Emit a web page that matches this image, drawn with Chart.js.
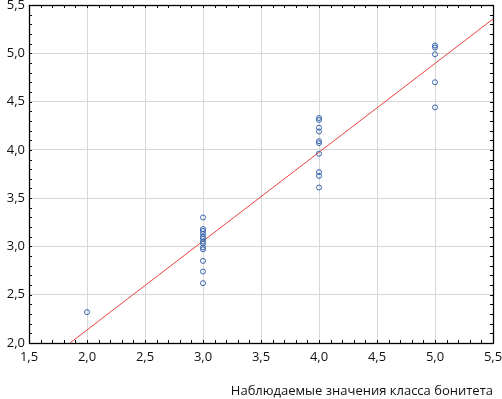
<!DOCTYPE html>
<html><head><meta charset="utf-8">
<script src="https://cdn.jsdelivr.net/npm/chart.js@4"></script>
<style>html,body{margin:0;padding:0;background:#fff}#wrap{width:502px;height:399px}</style>
</head><body><div id="wrap"><canvas id="c" width="502" height="399"></canvas></div>
<script>
const xTitle = 'Наблюдаемые значения класса бонитета';
const observedX = [2, 3,3,3,3,3,3,3,3,3,3,3,3,3, 4,4,4,4,4,4,4,4,4,4, 5,5,5,5,5];
const predictedY = [2.32, 3.30,3.18,3.16,3.13,3.10,3.08,3.05,3.03,2.99,2.97,2.85,2.74,2.62,
  4.33,4.31,4.23,4.19,4.09,4.07,3.96,3.77,3.73,3.61, 5.08,5.06,4.99,4.70,4.44];
const fitX = [1.853, 5.5];
const fitY = [2.0, 5.355];
const xMin = 1.5, xMax = 5.5, yMin = 2.0, yMax = 5.5, majorStep = 0.5, minorStep = 0.1;

const fmt = v => (Math.round(v*10)/10).toFixed(1).replace('.', ',');
const font = {family: '"Open Sans", "Noto Sans", sans-serif', size: 13};

const framePlugin = {
  id: 'frame',
  afterDatasetsDraw(chart) {
    const {ctx, chartArea: a, scales: {x, y}} = chart;
    ctx.save();
    ctx.strokeStyle = '#000';
    ctx.lineWidth = 1;
    ctx.beginPath();
    for (let v = xMin; v <= xMax + 1e-9; v += minorStep) {
      const px = Math.round(x.getPixelForValue(v)) + 0.5;
      ctx.moveTo(px, a.bottom); ctx.lineTo(px, a.bottom - 3);
      ctx.moveTo(px, a.top); ctx.lineTo(px, a.top + 3);
    }
    for (let v = yMin; v <= yMax + 1e-9; v += minorStep) {
      const py = Math.round(y.getPixelForValue(v)) + 0.5;
      ctx.moveTo(a.left, py); ctx.lineTo(a.left + 3, py);
      ctx.moveTo(a.right, py); ctx.lineTo(a.right - 3, py);
    }
    ctx.stroke();
    ctx.lineWidth = 1.3;
    ctx.strokeRect(Math.round(a.left)+0.5, Math.round(a.top)+0.5, Math.round(a.right-a.left), Math.round(a.bottom-a.top));
    ctx.restore();
  }
};

new Chart(document.getElementById('c'), {
  type: 'scatter',
  data: {
    datasets: [
      {
        type: 'line',
        data: fitX.map((v, i) => ({x: v, y: fitY[i]})),
        borderColor: '#e8413c',
        borderWidth: 1,
        pointRadius: 0,
        fill: false,
        order: 2
      },
      {
        data: observedX.map((v, i) => ({x: v, y: predictedY[i]})),
        pointRadius: 2.5,
        pointBorderWidth: 1,
        pointBorderColor: '#3866ad',
        pointBackgroundColor: 'rgba(255,255,255,0)',
        order: 1
      }
    ]
  },
  plugins: [framePlugin],
  options: {
    responsive: false,
    animation: false,
    devicePixelRatio: 1,
    layout: {padding: {top: 4, right: 9, left: 0, bottom: 0}},
    plugins: {legend: {display: false}, tooltip: {enabled: false}},
    scales: {
      x: {
        type: 'linear', min: xMin, max: xMax,
        border: {display: false},
        grid: {color: '#d8d8d8', drawTicks: false, lineWidth: 1},
        ticks: {stepSize: majorStep, callback: fmt, color: '#111', font, padding: 6, maxRotation: 0, autoSkip: false},
        title: {display: true, text: xTitle, align: 'end', color: '#111', font, padding: {top: 0, bottom: 0}},
        afterFit(s) { s.paddingLeft = 0; s.paddingRight = 0; s.height = 56; }
      },
      y: {
        type: 'linear', min: yMin, max: yMax,
        border: {display: false},
        grid: {color: '#d8d8d8', drawTicks: false, lineWidth: 1},
        ticks: {stepSize: majorStep, callback: fmt, color: '#111', font, padding: 4},
        afterFit(s) { s.paddingTop = 0; s.paddingBottom = 0; s.width = 29; }
      }
    }
  }
});
</script></body></html>
